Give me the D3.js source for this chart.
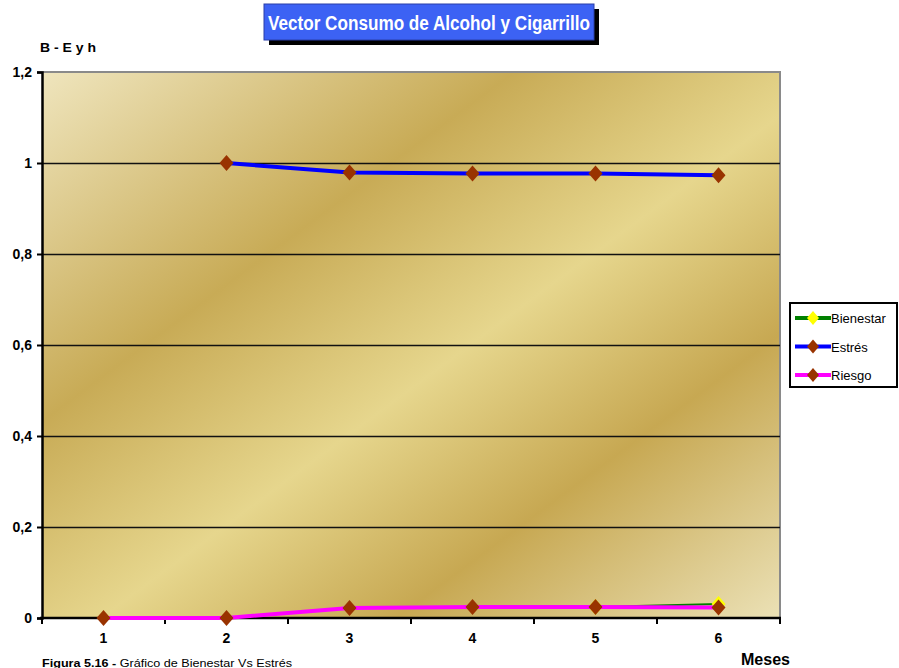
<!DOCTYPE html>
<html>
<head>
<meta charset="utf-8">
<script src="https://cdn.jsdelivr.net/npm/d3@7"></script>
<style>
  html, body { margin: 0; padding: 0; background: #fff; }
  svg { display: block; }
</style>
</head>
<body>
<svg id="chart" width="899" height="668"></svg>
<script>
// Months on the x axis
const months = ["1", "2", "3", "4", "5", "6"];
// Series values per month (null = no value)
const bienestar = [null, null, null, null, 0.024, 0.031];
const estres    = [null, 1.0, 0.979, 0.977, 0.977, 0.973];
const riesgo    = [0, 0, 0.022, 0.024, 0.024, 0.023];
// Y axis ticks
const yTicks = [0, 0.2, 0.4, 0.6, 0.8, 1.0, 1.2];

const FONT = "Arial, 'Liberation Sans', Helvetica, sans-serif";

const series = [
  { name: "Bienestar", values: bienestar, line: "#008000", width: 2, marker: "#ffff00" },
  { name: "Estrés",    values: estres,    line: "#0000ff", width: 4, marker: "#993300" },
  { name: "Riesgo",    values: riesgo,    line: "#ff00ff", width: 4, marker: "#993300" }
];

const svg = d3.select("#chart");
const plot = { left: 42, right: 780, top: 72, bottom: 618 };

const x = d3.scaleBand().domain(months).range([plot.left, plot.right]).paddingInner(0).paddingOuter(0);
const y = d3.scaleLinear().domain([0, 1.2]).range([plot.bottom, plot.top]);
const cx = m => x(m) + x.bandwidth() / 2;

// Gold gradient fill of the plot area
const defs = svg.append("defs");
const grad = defs.append("linearGradient").attr("id", "gold")
  .attr("x1", 0).attr("y1", 0).attr("x2", 1).attr("y2", 1);
[[0, "#efe5bd"], [0.32, "#c8ab56"], [0.54, "#e6d68d"], [0.74, "#c7a852"], [1, "#ebe1b6"]]
  .forEach(([o, c]) => grad.append("stop").attr("offset", o).attr("stop-color", c));

svg.append("rect")
  .attr("x", plot.left).attr("y", plot.top)
  .attr("width", plot.right - plot.left).attr("height", plot.bottom - plot.top)
  .attr("fill", "url(#gold)");

// Gray frame on top and right
svg.append("path")
  .attr("d", `M${plot.left},${plot.top}H${plot.right}V${plot.bottom}`)
  .attr("fill", "none").attr("stroke", "#8a8a8a").attr("stroke-width", 2);

// Horizontal gridlines
svg.append("g").selectAll("line").data(yTicks.filter(t => t > 0 && t < 1.2)).join("line")
  .attr("x1", plot.left).attr("x2", plot.right)
  .attr("y1", d => Math.round(y(d)) + 0.5).attr("y2", d => Math.round(y(d)) + 0.5)
  .attr("stroke", "#111").attr("stroke-width", 1.3);

// Y axis
const yAxis = d3.axisLeft(y).tickValues(yTicks).tickSize(5).tickPadding(5)
  .tickFormat(d => d3.format(".1~f")(d).replace(".", ","));
const gy = svg.append("g").attr("transform", `translate(${plot.left},0)`).call(yAxis);
gy.select(".domain").attr("stroke", "#000").attr("stroke-width", 2.5);
gy.selectAll(".tick line").attr("stroke", "#000").attr("stroke-width", 2);
gy.selectAll(".tick text").attr("font-family", FONT).attr("font-size", 14)
  .attr("font-weight", "bold").attr("fill", "#000");

// X axis: ticks between months, labels centred on months
const xAxis = d3.axisBottom(x).tickSize(0).tickPadding(15);
const gx = svg.append("g").attr("transform", `translate(0,${plot.bottom})`).call(xAxis);
gx.select(".domain").remove();
gx.selectAll(".tick text").attr("font-family", FONT).attr("font-size", 14)
  .attr("font-weight", "bold").attr("fill", "#000");
svg.append("line")
  .attr("x1", plot.left - 2).attr("x2", plot.right + 1)
  .attr("y1", plot.bottom).attr("y2", plot.bottom)
  .attr("stroke", "#000").attr("stroke-width", 2.5);
const bounds = months.map(m => x(m)).concat([x(months[months.length - 1]) + x.bandwidth()]);
svg.append("g").selectAll("line").data(bounds).join("line")
  .attr("x1", d => d).attr("x2", d => d)
  .attr("y1", plot.bottom).attr("y2", plot.bottom + 6)
  .attr("stroke", "#000").attr("stroke-width", 2);

// Series lines and diamond markers
const diamond = (px, py, w, h) => `M${px},${py - h}L${px + w},${py}L${px},${py + h}L${px - w},${py}Z`;
const lineGen = d3.line()
  .defined(d => d.v != null)
  .x(d => cx(d.m)).y(d => y(d.v));

series.forEach(s => {
  const pts = months.map((m, i) => ({ m, v: s.values[i] }));
  svg.append("path").datum(pts)
    .attr("d", lineGen)
    .attr("fill", "none").attr("stroke", s.line).attr("stroke-width", s.width)
    .attr("stroke-linejoin", "round");
  svg.append("g").selectAll("path").data(pts.filter(d => d.v != null)).join("path")
    .attr("d", d => diamond(cx(d.m), y(d.v), 7, 8))
    .attr("fill", s.marker);
});

// Title box with shadow
const tb = { x: 264, y: 4, w: 330, h: 36 };
svg.append("rect").attr("x", tb.x + 5).attr("y", tb.y + 5).attr("width", tb.w).attr("height", tb.h).attr("fill", "#000");
svg.append("rect").attr("x", tb.x).attr("y", tb.y).attr("width", tb.w).attr("height", tb.h)
  .attr("fill", "#3c62f4").attr("stroke", "#2a3fa8").attr("stroke-width", 1);
svg.append("text")
  .attr("x", tb.x + 4).attr("y", tb.y + 26)
  .attr("font-family", FONT).attr("font-size", 20).attr("font-weight", "bold").attr("fill", "#fff")
  .attr("textLength", 322).attr("lengthAdjust", "spacingAndGlyphs")
  .text("Vector Consumo de Alcohol y Cigarrillo");

// Axis titles
svg.append("text").attr("x", 40).attr("y", 52)
  .attr("font-family", FONT).attr("font-size", 13).attr("font-weight", "bold").attr("fill", "#000")
  .attr("textLength", 56).attr("lengthAdjust", "spacingAndGlyphs")
  .text("B - E y h");
svg.append("text").attr("x", 741).attr("y", 665)
  .attr("font-family", FONT).attr("font-size", 16).attr("font-weight", "bold").attr("fill", "#000")
  .attr("textLength", 49).attr("lengthAdjust", "spacingAndGlyphs")
  .text("Meses");

// Caption
const cap = svg.append("text").attr("x", 42).attr("y", 667)
  .attr("font-family", FONT).attr("font-size", 11).attr("fill", "#000")
  .attr("textLength", 250).attr("lengthAdjust", "spacingAndGlyphs");
cap.append("tspan").attr("font-weight", "bold").text("Figura 5.16 - ");
cap.append("tspan").text(" Gráfico de Bienestar Vs Estrés");

// Legend
const lg = svg.append("g").attr("transform", "translate(790,303)");
lg.append("rect").attr("x", 0).attr("y", 0).attr("width", 107).attr("height", 84)
  .attr("fill", "#fff").attr("stroke", "#000").attr("stroke-width", 2);
series.forEach((s, i) => {
  const ry = 15 + i * 28.5;
  lg.append("line").attr("x1", 5).attr("x2", 41).attr("y1", ry).attr("y2", ry)
    .attr("stroke", s.line).attr("stroke-width", 4);
  lg.append("path").attr("d", diamond(23, ry, 6, 7)).attr("fill", s.marker);
  lg.append("text").attr("x", 41).attr("y", ry + 5).attr("font-family", FONT)
    .attr("font-size", 13).attr("fill", "#000").text(s.name);
});
</script>
</body>
</html>
